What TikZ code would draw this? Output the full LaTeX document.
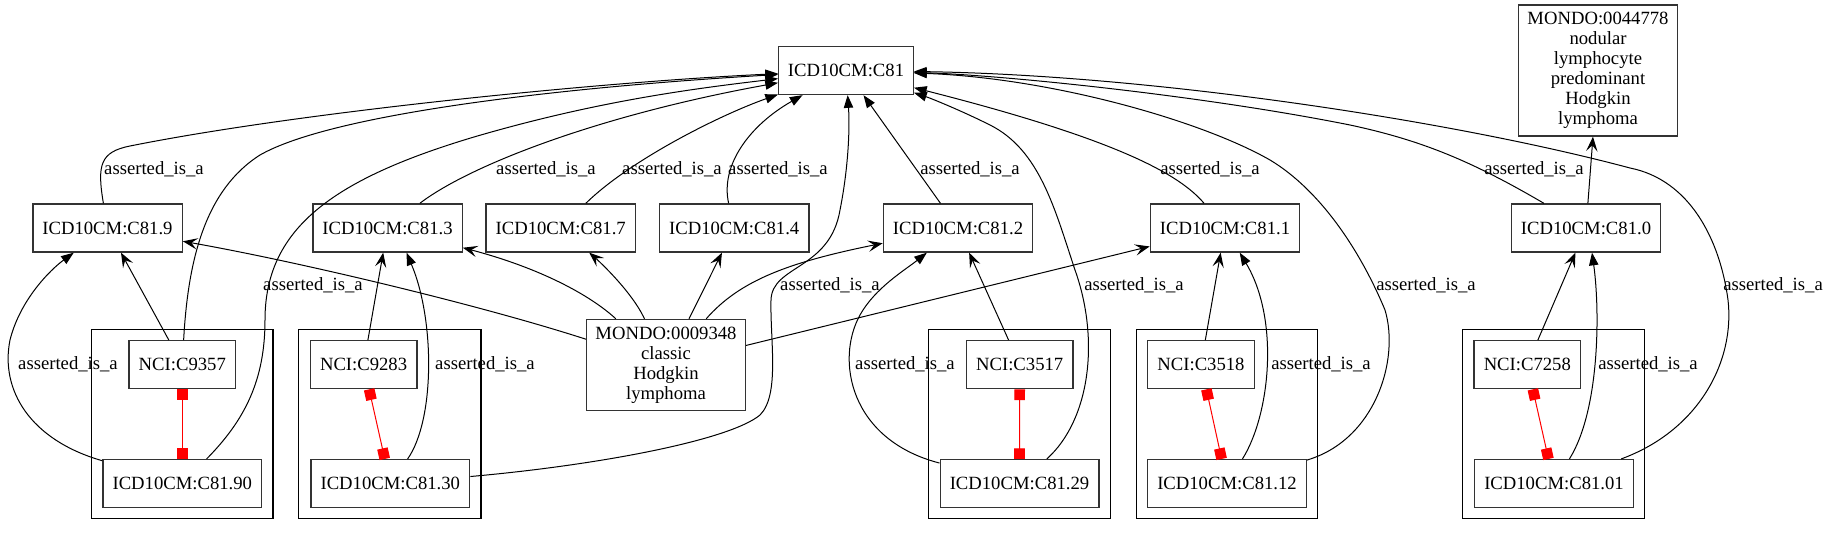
\documentclass[tikz,border=0pt]{standalone}
\usepackage{fontspec}
\setmainfont{Liberation Serif}
\usepackage{tikz}
\usetikzlibrary{arrows.meta,positioning,calc,fit}

\begin{document}
\begin{tikzpicture}[
    x=0.75pt, y=-0.75pt,
    term/.style={rectangle, draw=black!80, line width=1pt, inner sep=2pt, align=center, minimum height=36pt, font=\fontsize{14}{15}\selectfont},
    icd/.style={term, minimum width=112pt},
    leaf/.style={term, minimum width=119pt},
    nci/.style={term, minimum width=80pt},
    cluster/.style={draw=black, line width=0.8pt, inner sep=8pt},
    is_a_edge/.style={draw=black, line width=0.75pt, -{Triangle[length=9.5pt,width=7pt]}},
    sub_edge/.style={draw=black, line width=0.75pt, -{Stealth[length=11pt,width=8.5pt,inset=4.5pt]}},
    same_edge/.style={draw=red, line width=0.75pt, {Square[length=8pt,width=8pt]}-{Square[length=8pt,width=8pt]}},
    edge_label/.style={font=\fontsize{14}{15}\selectfont, inner sep=0pt}
]
    \useasboundingbox (0,0) rectangle (1828,535);

    \node[term, minimum width=101pt] (c81) at (846,70.5) {ICD10CM:C81};
    \node[term, minimum width=119pt, minimum height=98.25pt] (m44778) at (1598,70.5) {MONDO:0044778\\nodular\\lymphocyte\\predominant\\Hodgkin\\lymphoma};

    \node[icd] (c819) at (107.5,228) {ICD10CM:C81.9};
    \node[icd] (c813) at (387.5,228) {ICD10CM:C81.3};
    \node[icd] (c817) at (560.7,228) {ICD10CM:C81.7};
    \node[icd] (c814) at (734.2,228) {ICD10CM:C81.4};
    \node[icd] (c812) at (958,228) {ICD10CM:C81.2};
    \node[icd] (c811) at (1225,228) {ICD10CM:C81.1};
    \node[icd] (c810) at (1586,228) {ICD10CM:C81.0};

    \node[term, minimum width=119pt, minimum height=68.25pt] (m9348) at (666,365) {MONDO:0009348\\classic\\Hodgkin\\lymphoma};

    \node[nci] (nci9357) at (182.3,364.7) {NCI:C9357};
    \node[leaf] (c8190) at (182.3,483.6) {ICD10CM:C81.90};
    \node[nci] (nci9283) at (363.6,364.7) {NCI:C9283};
    \node[leaf] (c8130) at (390.3,483.6) {ICD10CM:C81.30};
    \node[nci] (nci3517) at (1019.7,364.7) {NCI:C3517};
    \node[leaf] (c8129) at (1019.5,483.6) {ICD10CM:C81.29};
    \node[nci] (nci3518) at (1201,364.7) {NCI:C3518};
    \node[leaf] (c8112) at (1227,483.6) {ICD10CM:C81.12};
    \node[nci] (nci7258) at (1527.3,364.7) {NCI:C7258};
    \node[leaf] (c8101) at (1554,483.6) {ICD10CM:C81.01};

    \node[cluster, fit=(nci9357) (c8190)] (g1) {};
    \node[cluster, fit=(nci9283) (c8130)] (g2) {};
    \node[cluster, fit=(nci3517) (c8129)] (g3) {};
    \node[cluster, fit=(nci3518) (c8112)] (g4) {};
    \node[cluster, fit=(nci7258) (c8101)] (g5) {};

    % everything up to C81
    \draw[is_a_edge] (c819) .. controls (97,165) and (100,152) .. (130,146) .. controls (300,112) and (600,82) .. (c81);
    \draw[is_a_edge] (nci9357) .. controls (188,260) and (205,190) .. (260,155) .. controls (330,115) and (550,88) .. (c81);
    \draw[is_a_edge] (c8190) .. controls (245,420) and (265,380) .. (265,320) .. controls (265,230) and (330,180) .. (474,137) .. controls (600,100) and (700,88) .. (c81);
    \draw[is_a_edge] (c813) .. controls (470,165) and (600,115) .. (c81);
    \draw[is_a_edge] (c817) .. controls (630,160) and (720,115) .. (c81);
    \draw[is_a_edge] (c814) .. controls (720,165) and (750,125) .. (c81);
    \draw[is_a_edge] (c8130) .. controls (600,465) and (730,440) .. (760,415) .. controls (780,395) and (770,340) .. (771,300) .. controls (772,265) and (830,270) .. (840,210) .. controls (848,170) and (850,130) .. (c81);
    \draw[is_a_edge] (c812) -- (c81);
    \draw[is_a_edge] (c8129) .. controls (1090,420) and (1100,340) .. (1075,270) .. controls (1055,210) and (1040,150) .. (990,125) .. controls (960,110) and (930,98) .. (c81);
    \draw[is_a_edge] (c811) .. controls (1180,175) and (1120,140) .. (c81);
    \draw[is_a_edge] (c8112) .. controls (1375,440) and (1400,360) .. (1385,310) .. controls (1360,250) and (1320,190) .. (1270,160) .. controls (1200,120) and (1050,78) .. (c81);
    \draw[is_a_edge] (c810) .. controls (1470,160) and (1420,140) .. (1350,125) .. controls (1200,95) and (1000,75) .. (c81);
    \draw[is_a_edge] (c8101) .. controls (1700,430) and (1735,360) .. (1728,300) .. controls (1720,240) and (1690,180) .. (1630,168) .. controls (1450,120) and (1150,75) .. (c81);

    % classic Hodgkin lymphoma
    \draw[sub_edge] (m9348) .. controls (480,305) and (300,262) .. (c819);
    \draw[sub_edge] (m9348) .. controls (590,295) and (540,268) .. (c813);
    \draw[sub_edge] (m9348) .. controls (632,292) and (600,262) .. (c817);
    \draw[sub_edge] (m9348) -- (c814);
    \draw[sub_edge] (m9348) .. controls (740,280) and (790,262) .. (c812);
    \draw[sub_edge] (m9348) -- (c811);
    \draw[sub_edge] (c810) -- (m44778);

    % clusters
    \draw[sub_edge] (nci9357) -- (c819);
    \draw[is_a_edge] (c8190) .. controls (30,440) and (0,390) .. (10,340) .. controls (20,300) and (50,270) .. (c819);
    \draw[same_edge] (nci9357) -- (c8190);
    \draw[sub_edge] (nci9283) -- (c813);
    \draw[is_a_edge] (c8130) .. controls (435,420) and (435,320) .. ($(c813.south)+(19,0)$);
    \draw[same_edge] (nci9283) -- (c8130);
    \draw[sub_edge] (nci3517) -- (c812);
    \draw[is_a_edge] (c8129) .. controls (850,440) and (835,360) .. (860,315) .. controls (875,288) and (905,270) .. (c812);
    \draw[same_edge] (nci3517) -- (c8129);
    \draw[sub_edge] (nci3518) -- (c811);
    \draw[is_a_edge] (c8112) .. controls (1270,415) and (1280,320) .. (c811);
    \draw[same_edge] (nci3518) -- (c8112);
    \draw[sub_edge] (nci7258) -- (c810);
    \draw[is_a_edge] (c8101) .. controls (1600,410) and (1600,310) .. ($(c810.south)+(6,0)$);
    \draw[same_edge] (nci7258) -- (c8101);

    \node[edge_label] (l1) at (154,169.6) {asserted\_is\_a};
    \node[edge_label] (l2) at (546,169.6) {asserted\_is\_a};
    \node[edge_label] (l3) at (672,169.6) {asserted\_is\_a};
    \node[edge_label] (l4) at (778,169.6) {asserted\_is\_a};
    \node[edge_label] (l5) at (970,169.6) {asserted\_is\_a};
    \node[edge_label] (l6) at (1210,169.6) {asserted\_is\_a};
    \node[edge_label] (l7) at (1534,169.6) {asserted\_is\_a};
    \node[edge_label] (l8) at (313,285.6) {asserted\_is\_a};
    \node[edge_label] (l9) at (830,285.6) {asserted\_is\_a};
    \node[edge_label] (l10) at (1134,285.6) {asserted\_is\_a};
    \node[edge_label] (l11) at (1426,285.6) {asserted\_is\_a};
    \node[edge_label] (l12) at (1773,285.6) {asserted\_is\_a};
    \node[edge_label] (l13) at (68,364.4) {asserted\_is\_a};
    \node[edge_label] (l14) at (485,364.4) {asserted\_is\_a};
    \node[edge_label] (l15) at (905,364.4) {asserted\_is\_a};
    \node[edge_label] (l16) at (1321,364.4) {asserted\_is\_a};
    \node[edge_label] (l17) at (1648,364.4) {asserted\_is\_a};
\end{tikzpicture}
\end{document}
